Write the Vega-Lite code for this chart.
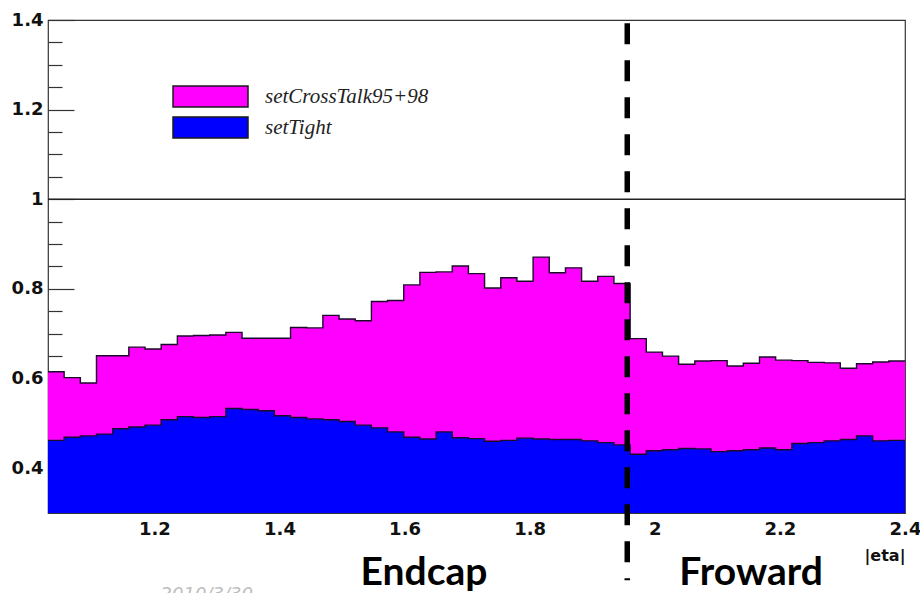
{
  "$schema": "https://vega.github.io/schema/vega-lite/v6.json",
  "autosize": {"type": "none"},
  "width": 857,
  "height": 493,
  "padding": {"left": 48, "top": 20, "right": 15, "bottom": 80},
  "background": "white",
  "config": {
    "view": {"stroke": "#333333", "strokeWidth": 1.2},
    "axis": {"grid": false, "domain": false}
  },
  "resolve": {"axis": {"y": "independent"}},
  "datasets": {
    "hist": [
      {"eta": 1.0300, "eff": 0.615, "sample": "setCrossTalk95+98"},
      {"eta": 1.0558, "eff": 0.602, "sample": "setCrossTalk95+98"},
      {"eta": 1.0817, "eff": 0.590, "sample": "setCrossTalk95+98"},
      {"eta": 1.1075, "eff": 0.651, "sample": "setCrossTalk95+98"},
      {"eta": 1.1334, "eff": 0.651, "sample": "setCrossTalk95+98"},
      {"eta": 1.1592, "eff": 0.670, "sample": "setCrossTalk95+98"},
      {"eta": 1.1851, "eff": 0.666, "sample": "setCrossTalk95+98"},
      {"eta": 1.2109, "eff": 0.676, "sample": "setCrossTalk95+98"},
      {"eta": 1.2368, "eff": 0.695, "sample": "setCrossTalk95+98"},
      {"eta": 1.2626, "eff": 0.696, "sample": "setCrossTalk95+98"},
      {"eta": 1.2885, "eff": 0.697, "sample": "setCrossTalk95+98"},
      {"eta": 1.3143, "eff": 0.703, "sample": "setCrossTalk95+98"},
      {"eta": 1.3402, "eff": 0.690, "sample": "setCrossTalk95+98"},
      {"eta": 1.3660, "eff": 0.690, "sample": "setCrossTalk95+98"},
      {"eta": 1.3919, "eff": 0.690, "sample": "setCrossTalk95+98"},
      {"eta": 1.4177, "eff": 0.714, "sample": "setCrossTalk95+98"},
      {"eta": 1.4436, "eff": 0.713, "sample": "setCrossTalk95+98"},
      {"eta": 1.4694, "eff": 0.741, "sample": "setCrossTalk95+98"},
      {"eta": 1.4953, "eff": 0.733, "sample": "setCrossTalk95+98"},
      {"eta": 1.5211, "eff": 0.729, "sample": "setCrossTalk95+98"},
      {"eta": 1.5470, "eff": 0.772, "sample": "setCrossTalk95+98"},
      {"eta": 1.5728, "eff": 0.774, "sample": "setCrossTalk95+98"},
      {"eta": 1.5987, "eff": 0.809, "sample": "setCrossTalk95+98"},
      {"eta": 1.6245, "eff": 0.837, "sample": "setCrossTalk95+98"},
      {"eta": 1.6504, "eff": 0.838, "sample": "setCrossTalk95+98"},
      {"eta": 1.6762, "eff": 0.851, "sample": "setCrossTalk95+98"},
      {"eta": 1.7021, "eff": 0.834, "sample": "setCrossTalk95+98"},
      {"eta": 1.7279, "eff": 0.802, "sample": "setCrossTalk95+98"},
      {"eta": 1.7538, "eff": 0.825, "sample": "setCrossTalk95+98"},
      {"eta": 1.7796, "eff": 0.817, "sample": "setCrossTalk95+98"},
      {"eta": 1.8055, "eff": 0.871, "sample": "setCrossTalk95+98"},
      {"eta": 1.8313, "eff": 0.836, "sample": "setCrossTalk95+98"},
      {"eta": 1.8572, "eff": 0.847, "sample": "setCrossTalk95+98"},
      {"eta": 1.8830, "eff": 0.817, "sample": "setCrossTalk95+98"},
      {"eta": 1.9089, "eff": 0.828, "sample": "setCrossTalk95+98"},
      {"eta": 1.9347, "eff": 0.812, "sample": "setCrossTalk95+98"},
      {"eta": 1.9606, "eff": 0.689, "sample": "setCrossTalk95+98"},
      {"eta": 1.9864, "eff": 0.659, "sample": "setCrossTalk95+98"},
      {"eta": 2.0123, "eff": 0.650, "sample": "setCrossTalk95+98"},
      {"eta": 2.0381, "eff": 0.632, "sample": "setCrossTalk95+98"},
      {"eta": 2.0640, "eff": 0.639, "sample": "setCrossTalk95+98"},
      {"eta": 2.0898, "eff": 0.640, "sample": "setCrossTalk95+98"},
      {"eta": 2.1157, "eff": 0.628, "sample": "setCrossTalk95+98"},
      {"eta": 2.1415, "eff": 0.634, "sample": "setCrossTalk95+98"},
      {"eta": 2.1674, "eff": 0.648, "sample": "setCrossTalk95+98"},
      {"eta": 2.1932, "eff": 0.641, "sample": "setCrossTalk95+98"},
      {"eta": 2.2191, "eff": 0.640, "sample": "setCrossTalk95+98"},
      {"eta": 2.2449, "eff": 0.636, "sample": "setCrossTalk95+98"},
      {"eta": 2.2708, "eff": 0.635, "sample": "setCrossTalk95+98"},
      {"eta": 2.2966, "eff": 0.623, "sample": "setCrossTalk95+98"},
      {"eta": 2.3225, "eff": 0.633, "sample": "setCrossTalk95+98"},
      {"eta": 2.3483, "eff": 0.637, "sample": "setCrossTalk95+98"},
      {"eta": 2.3742, "eff": 0.639, "sample": "setCrossTalk95+98"},
      {"eta": 2.4000, "eff": 0.639, "sample": "setCrossTalk95+98"},
      {"eta": 1.0300, "eff": 0.462, "sample": "setTight"},
      {"eta": 1.0558, "eff": 0.469, "sample": "setTight"},
      {"eta": 1.0817, "eff": 0.472, "sample": "setTight"},
      {"eta": 1.1075, "eff": 0.476, "sample": "setTight"},
      {"eta": 1.1334, "eff": 0.488, "sample": "setTight"},
      {"eta": 1.1592, "eff": 0.492, "sample": "setTight"},
      {"eta": 1.1851, "eff": 0.496, "sample": "setTight"},
      {"eta": 1.2109, "eff": 0.508, "sample": "setTight"},
      {"eta": 1.2368, "eff": 0.515, "sample": "setTight"},
      {"eta": 1.2626, "eff": 0.513, "sample": "setTight"},
      {"eta": 1.2885, "eff": 0.515, "sample": "setTight"},
      {"eta": 1.3143, "eff": 0.533, "sample": "setTight"},
      {"eta": 1.3402, "eff": 0.531, "sample": "setTight"},
      {"eta": 1.3660, "eff": 0.528, "sample": "setTight"},
      {"eta": 1.3919, "eff": 0.517, "sample": "setTight"},
      {"eta": 1.4177, "eff": 0.513, "sample": "setTight"},
      {"eta": 1.4436, "eff": 0.510, "sample": "setTight"},
      {"eta": 1.4694, "eff": 0.508, "sample": "setTight"},
      {"eta": 1.4953, "eff": 0.504, "sample": "setTight"},
      {"eta": 1.5211, "eff": 0.496, "sample": "setTight"},
      {"eta": 1.5470, "eff": 0.490, "sample": "setTight"},
      {"eta": 1.5728, "eff": 0.481, "sample": "setTight"},
      {"eta": 1.5987, "eff": 0.469, "sample": "setTight"},
      {"eta": 1.6245, "eff": 0.465, "sample": "setTight"},
      {"eta": 1.6504, "eff": 0.481, "sample": "setTight"},
      {"eta": 1.6762, "eff": 0.468, "sample": "setTight"},
      {"eta": 1.7021, "eff": 0.466, "sample": "setTight"},
      {"eta": 1.7279, "eff": 0.460, "sample": "setTight"},
      {"eta": 1.7538, "eff": 0.462, "sample": "setTight"},
      {"eta": 1.7796, "eff": 0.467, "sample": "setTight"},
      {"eta": 1.8055, "eff": 0.465, "sample": "setTight"},
      {"eta": 1.8313, "eff": 0.464, "sample": "setTight"},
      {"eta": 1.8572, "eff": 0.464, "sample": "setTight"},
      {"eta": 1.8830, "eff": 0.461, "sample": "setTight"},
      {"eta": 1.9089, "eff": 0.457, "sample": "setTight"},
      {"eta": 1.9347, "eff": 0.452, "sample": "setTight"},
      {"eta": 1.9606, "eff": 0.431, "sample": "setTight"},
      {"eta": 1.9864, "eff": 0.439, "sample": "setTight"},
      {"eta": 2.0123, "eff": 0.441, "sample": "setTight"},
      {"eta": 2.0381, "eff": 0.444, "sample": "setTight"},
      {"eta": 2.0640, "eff": 0.443, "sample": "setTight"},
      {"eta": 2.0898, "eff": 0.437, "sample": "setTight"},
      {"eta": 2.1157, "eff": 0.439, "sample": "setTight"},
      {"eta": 2.1415, "eff": 0.441, "sample": "setTight"},
      {"eta": 2.1674, "eff": 0.445, "sample": "setTight"},
      {"eta": 2.1932, "eff": 0.441, "sample": "setTight"},
      {"eta": 2.2191, "eff": 0.455, "sample": "setTight"},
      {"eta": 2.2449, "eff": 0.457, "sample": "setTight"},
      {"eta": 2.2708, "eff": 0.461, "sample": "setTight"},
      {"eta": 2.2966, "eff": 0.464, "sample": "setTight"},
      {"eta": 2.3225, "eff": 0.472, "sample": "setTight"},
      {"eta": 2.3483, "eff": 0.461, "sample": "setTight"},
      {"eta": 2.3742, "eff": 0.462, "sample": "setTight"},
      {"eta": 2.4000, "eff": 0.462, "sample": "setTight"}
    ],
    "regions": [
      {"label": "Endcap", "eta": 1.631, "eff": 0.139},
      {"label": "Froward", "eta": 2.154, "eff": 0.139}
    ],
    "footer": [
      {"label": "2010/3/30", "eta": 1.21, "eff": 0.1056}
    ]
  },
  "layer": [
    {
      "data": {"name": "hist"},
      "transform": [{"filter": "datum.sample === 'setCrossTalk95+98'"}],
      "mark": {"type": "area", "interpolate": "step-after", "opacity": 1},
      "encoding": {
        "x": {
          "field": "eta", "type": "quantitative",
          "scale": {"domain": [1.03, 2.4], "nice": false, "zero": false},
          "axis": {
            "title": "|eta|",
            "values": [1.2, 1.4, 1.6, 1.8, 2.0, 2.2, 2.4],
            "labelExpr": "format(datum.value, '.1~f')",
            "ticks": false,
            "labelFlush": false,
            "labelOverlap": false,
            "labelPadding": 7,
            "labelFont": "DejaVu Sans",
            "labelFontWeight": "bold",
            "labelFontSize": 18,
            "labelColor": "#111111",
            "titleAnchor": "end",
            "titleAlign": "right",
            "titleBaseline": "top",
            "titlePadding": 9,
            "titleFont": "DejaVu Sans",
            "titleFontWeight": "bold",
            "titleFontSize": 16,
            "titleColor": "#111111"
          }
        },
        "y": {
          "field": "eff", "type": "quantitative", "stack": null,
          "scale": {"domain": [0.3, 1.4], "nice": false, "zero": false},
          "axis": {
            "orient": "left",
            "title": null,
            "values": [0.4, 0.6, 0.8, 1.0, 1.2, 1.4],
            "labelExpr": "format(datum.value, '.1~f')",
            "ticks": false,
            "labelPadding": 5,
            "labelFont": "DejaVu Sans",
            "labelFontWeight": "bold",
            "labelFontSize": 18,
            "labelColor": "#111111"
          }
        },
        "y2": {"datum": 0.3},
        "color": {
          "field": "sample", "type": "nominal",
          "scale": {"domain": ["setCrossTalk95+98", "setTight"], "range": ["#ff00ff", "#0000ff"]},
          "legend": {
            "orient": "none",
            "legendX": 124,
            "legendY": 65,
            "title": null,
            "padding": 0,
            "symbolType": "M-1,-0.28H1V0.28H-1Z",
            "symbolSize": 5625,
            "symbolStrokeColor": "#1a1a1a",
            "symbolStrokeWidth": 1.5,
            "symbolOpacity": 1,
            "clipHeight": 23,
            "labelFont": "Liberation Serif",
            "labelFontStyle": "italic",
            "labelFontSize": 21,
            "labelColor": "#222222",
            "labelOffset": 16,
            "labelLimit": 500,
            "rowPadding": 8
          }
        }
      }
    },
    {
      "data": {"name": "hist"},
      "transform": [{"filter": "datum.sample === 'setTight'"}],
      "mark": {"type": "area", "interpolate": "step-after", "opacity": 1},
      "encoding": {
        "x": {"field": "eta", "type": "quantitative"},
        "y": {
          "field": "eff", "type": "quantitative", "stack": null,
          "axis": {
            "orient": "right",
            "offset": -857,
            "title": null,
            "labels": false,
            "values": [0.4, 0.6, 0.8, 1.0, 1.2, 1.4],
            "tickSize": 26,
            "tickColor": "#333333",
            "tickWidth": 1.2
          }
        },
        "y2": {"datum": 0.3},
        "color": {"field": "sample", "type": "nominal"}
      }
    },
    {
      "data": {"name": "hist"},
      "mark": {"type": "line", "interpolate": "step-after", "color": "#1c0a2a", "strokeWidth": 1.4},
      "encoding": {
        "x": {"field": "eta", "type": "quantitative"},
        "y": {
          "field": "eff", "type": "quantitative",
          "axis": {
            "orient": "right",
            "offset": -857,
            "title": null,
            "labels": false,
            "values": [0.45, 0.5, 0.55, 0.65, 0.7, 0.75, 0.85, 0.9, 0.95, 1.05, 1.1, 1.15, 1.25, 1.3, 1.35],
            "tickSize": 14,
            "tickColor": "#333333",
            "tickWidth": 1.2
          }
        },
        "detail": {"field": "sample"}
      }
    },
    {
      "data": {"values": [{}]},
      "mark": {"type": "rule", "color": "#222222", "strokeWidth": 1.4},
      "encoding": {"y": {"datum": 1.0, "axis": null}}
    },
    {
      "data": {"values": [{}]},
      "mark": {"type": "rule", "color": "#000000", "strokeWidth": 5.5, "strokeDash": [21, 16]},
      "encoding": {
        "x": {"datum": 1.956},
        "y": {"datum": 1.393, "axis": null},
        "y2": {"datum": 0.15}
      }
    },
    {
      "data": {"name": "regions"},
      "mark": {"type": "text", "font": "Lato", "fontWeight": "bold", "fontSize": 39, "align": "center", "baseline": "alphabetic", "color": "#000000"},
      "encoding": {
        "x": {"field": "eta", "type": "quantitative"},
        "y": {"field": "eff", "type": "quantitative", "axis": null},
        "text": {"field": "label"}
      }
    },
    {
      "data": {"name": "footer"},
      "mark": {"type": "text", "font": "DejaVu Sans", "fontStyle": "italic", "fontSize": 18, "align": "left", "baseline": "alphabetic", "color": "#bdbdbd"},
      "encoding": {
        "x": {"field": "eta", "type": "quantitative"},
        "y": {"field": "eff", "type": "quantitative", "axis": null},
        "text": {"field": "label"}
      }
    }
  ]
}
